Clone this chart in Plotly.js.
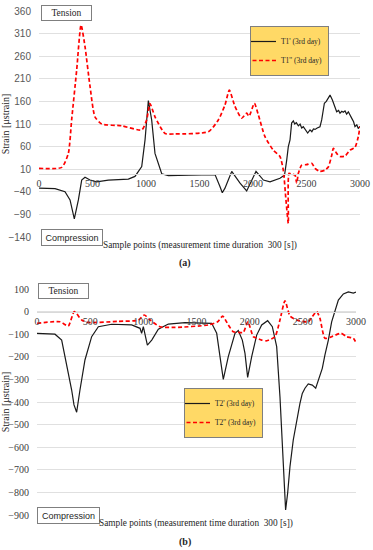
<!DOCTYPE html>
<html>
<head>
<meta charset="utf-8">
<script src="https://cdn.plot.ly/plotly-3.0.1.min.js"></script>
<style>html,body{margin:0;padding:0;background:#fff;}#chart{width:373px;height:550px;}</style>
</head>
<body>
<div id="chart"></div>
<script>
// ---- Data: chart (a) ----
const t1pX = [0,150,243,290,330,368,399,430,477,539,648,835,897,960,991,1022,1053,1084,1147,1209,1400,1645,1692,1713,1738,1801,1879,1941,2028,2097,2159,2252,2283,2293,2315,2330,2346,2361,2377,2390,2405,2424,2440,2455,2470,2490,2511,2533,2550,2565,2580,2600,2626,2642,2667,2685,2704,2720,2742,2760,2782,2800,2813,2830,2844,2860,2875,2891,2910,2922,2940,2953,2970,2984,3000];
const t1pY = [-32,-33,-40,-58,-100,-58,-14,-8,-14,-18,-14,-12,-6,16,75,162,119,45,0,-4,-3,-2,-29,-42,-32,5,-21,-38,5,-14,-18,-10,-5,-6,30,60,75,112,117,110,113,106,110,101,104,98,90,97,93,99,98,101,104,119,156,160,167,174,163,150,137,140,134,138,136,139,132,137,130,123,115,104,108,100,105];
const t1ppX = [0,212,274,305,352,393,430,477,523,586,773,960,1006,1037,1084,1178,1271,1583,1676,1738,1779,1830,1894,1941,1963,2013,2050,2112,2190,2252,2283,2308,2330,2337,2361,2393,2408,2424,2455,2500,2549,2580,2626,2673,2704,2736,2751,2782,2813,2860,2906,2953,2984,3000];
const t1ppY = [12,14,45,119,229,329,281,193,126,110,106,97,119,155,126,89,88,93,119,152,185,150,123,134,127,156,130,82,52,38,8,-58,-110,1,-1,-3,-21,1,19,20,23,12,5,8,15,41,56,45,38,39,52,58,82,104];

// ---- Data: chart (b) ----
const t2pX = [0,169,232,279,326,348,373,404,451,514,577,702,890,969,984,1000,1016,1038,1079,1141,1235,1392,1643,1690,1721,1752,1799,1862,1893,1931,1956,1981,2019,2066,2113,2169,2213,2254,2285,2307,2326,2338,2357,2379,2410,2442,2473,2495,2520,2551,2589,2621,2646,2683,2708,2740,2771,2802,2834,2881,2928,2975,3000];
const t2pY = [-96,-100,-126,-229,-347,-413,-445,-347,-214,-111,-67,-56,-59,-74,-96,-67,-104,-148,-126,-78,-55,-49,-52,-96,-199,-300,-199,-96,-84,-126,-185,-291,-199,-104,-59,-40,-67,-155,-377,-598,-804,-878,-804,-686,-568,-480,-406,-362,-339,-320,-325,-339,-303,-251,-192,-126,-45,7,51,78,87,82,86];
const t2ppX = [0,216,294,351,420,483,765,953,1009,1063,1157,1298,1611,1699,1746,1799,1846,1893,1940,1983,2034,2066,2113,2160,2238,2285,2332,2379,2442,2551,2589,2630,2661,2708,2771,2859,2912,2975,3000];
const t2ppY = [-52,-45,-64,0,-37,-48,-43,-38,-15,-37,-67,-70,-59,-45,-20,-59,-89,-92,-92,-45,-111,-117,-126,-129,-111,-37,48,-19,-37,-45,-22,0,-30,-118,-111,-96,-111,-118,-138];

const xTicks = [0,500,1000,1500,2000,2500,3000];
const names = ["T1' (3rd day)", "T1'' (3rd day)", "T2' (3rd day)", "T2'' (3rd day)"];
const xTitle = "Sample points (measurement time duration  300 [s])";
const yTitle = "Strain [μstrain]";

// ---- Layout geometry ----
const W = 373, H = 550;
const px = v => v / W, py = v => 1 - v / H;
const yA = [-140, 360], yB = [-900, 100];
const domYA = [py(237), py(11)], domYB = [py(515), py(289)];
const zeroPos = (r, d) => d[0] + (0 - r[0]) / (r[1] - r[0]) * (d[1] - d[0]);

const serif = "Liberation Serif, serif";
const sans = "Liberation Sans, Arial, sans-serif";
const redDash = '4px,2.5px';

const traces = [
  {x: t1pX, y: t1pY, name: names[0], type: 'scatter', mode: 'lines', xaxis: 'x', yaxis: 'y', legend: 'legend',
   line: {color: '#1a1a1a', width: 1.2}},
  {x: t1ppX, y: t1ppY, name: names[1], type: 'scatter', mode: 'lines', xaxis: 'x', yaxis: 'y', legend: 'legend',
   line: {color: '#ff0000', width: 1.7, dash: redDash, shape: 'spline', smoothing: 0.6}},
  {x: t2pX, y: t2pY, name: names[2], type: 'scatter', mode: 'lines', xaxis: 'x2', yaxis: 'y2', legend: 'legend2',
   line: {color: '#1a1a1a', width: 1.2}},
  {x: t2ppX, y: t2ppY, name: names[3], type: 'scatter', mode: 'lines', xaxis: 'x2', yaxis: 'y2', legend: 'legend2',
   line: {color: '#ff0000', width: 1.7, dash: redDash, shape: 'spline', smoothing: 0.6}}
];

const xCommon = {
  range: [0, 3000], tickvals: xTicks, ticktext: xTicks.map(String), showgrid: false, zeroline: false,
  showline: true, linecolor: '#d9d9d9', linewidth: 1, ticks: '', fixedrange: true,
  tickfont: {family: serif, size: 10, color: '#404040'}, anchor: 'free'
};
const yCommon = {
  showgrid: true, gridcolor: '#e0e0e0', gridwidth: 1, zeroline: false, showline: false,
  ticks: 'outside', ticklen: 5, tickcolor: 'rgba(0,0,0,0)', fixedrange: true
};

const boxAnn = (text, x, y, w, h, fam, size) => ({
  text: text, xref: 'paper', yref: 'paper', x: px(x), y: py(y), xanchor: 'left', yanchor: 'top',
  showarrow: false, bordercolor: '#7f7f7f', borderwidth: 1, borderpad: 1, bgcolor: '#ffffff',
  width: w, height: h, align: 'center', valign: 'middle', font: {family: fam, size: size, color: '#262626'}
});
const txtAnn = (text, x, y, opts) => Object.assign({
  text: text, xref: 'paper', yref: 'paper', x: px(x), y: py(y), xanchor: 'center', yanchor: 'middle',
  showarrow: false, font: {family: serif, size: 9.3, color: '#262626'}
}, opts || {});

const legendStyle = {
  xanchor: 'left', yanchor: 'top', bgcolor: '#FFD966', bordercolor: '#7f7f7f', borderwidth: 1,
  font: {family: serif, size: 7.5, color: '#262626'}, itemwidth: 30, tracegroupgap: 0, indentation: -10
};

const layout = {
  width: W, height: H, margin: {l: 0, r: 0, t: 0, b: 0}, paper_bgcolor: '#ffffff', plot_bgcolor: '#ffffff',
  showlegend: true,
  xaxis: Object.assign({}, xCommon, {domain: [px(39), px(360)], position: zeroPos(yA, domYA)}),
  yaxis: Object.assign({}, yCommon, {domain: domYA, range: yA, tick0: 10, dtick: 50, anchor: 'x',
    tickfont: {family: sans, size: 10, color: '#595959'},
    title: {text: yTitle, font: {family: serif, size: 10, color: '#262626'}, standoff: 2}}),
  xaxis2: Object.assign({}, xCommon, {domain: [px(37), px(356)], position: zeroPos(yB, domYB)}),
  yaxis2: Object.assign({}, yCommon, {domain: domYB, range: yB, tick0: 0, dtick: 100, anchor: 'x2',
    tickfont: {family: serif, size: 10, color: '#404040'},
    title: {text: yTitle, font: {family: serif, size: 10, color: '#262626'}, standoff: 2}}),
  legend: Object.assign({}, legendStyle, {x: px(250), y: py(26)}),
  legend2: Object.assign({}, legendStyle, {x: px(184), y: py(388)}),
  annotations: [
    boxAnn('Tension', 41, 5, 47, 12, serif, 9.5),
    boxAnn('Compression', 41, 229, 58, 13, sans, 9),
    txtAnn(xTitle, 200, 245),
    txtAnn('<b>(a)</b>', 185, 263, {font: {family: serif, size: 10, color: '#262626'}}),
    boxAnn('Tension', 38, 283, 47, 12, serif, 9.5),
    boxAnn('Compression', 37, 507, 59, 13, sans, 9),
    txtAnn(xTitle, 196, 523),
    txtAnn('<b>(b)</b>', 185, 542, {font: {family: serif, size: 10, color: '#262626'}})
  ]
};

Plotly.newPlot('chart', traces, layout, {displayModeBar: false, staticPlot: true});
</script>
</body>
</html>
